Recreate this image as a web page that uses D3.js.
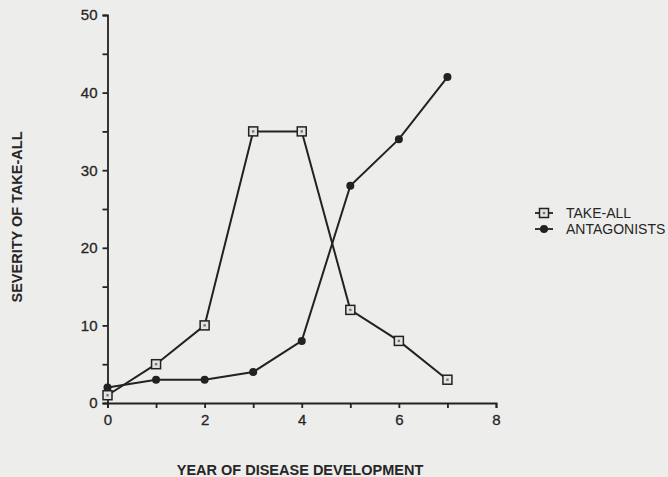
<!DOCTYPE html>
<html>
<head>
<meta charset="utf-8">
<script src="https://cdn.jsdelivr.net/npm/d3@7"></script>
<style>
  body { margin: 0; background: #ededeb; }
  text { font-family: "Liberation Sans", Arial, sans-serif; fill: #262626; }
</style>
</head>
<body>
<div id="chart"></div>
<script>
const years = [0, 1, 2, 3, 4, 5, 6, 7];
const takeAll = [1, 5, 10, 35, 35, 12, 8, 3];
const antagonists = [2, 3, 3, 4, 8, 28, 34, 42];
const seriesNames = ["TAKE-ALL", "ANTAGONISTS"];
const xTicks = [0, 1, 2, 3, 4, 5, 6, 7, 8];
const yTicks = [0, 5, 10, 15, 20, 25, 30, 35, 40, 45, 50];

const width = 668, height = 477;
const ink = "#222";

const svg = d3.select("#chart").append("svg")
  .attr("width", width)
  .attr("height", height);

svg.append("rect")
  .attr("width", width).attr("height", height)
  .attr("fill", "#ededeb");

var x = d3.scaleLinear().domain([0, 8]).range([107.5, 496]);
var y = d3.scaleLinear().domain([0, 50]).range([403, 15]);

// axes
var xAxis = svg.append("g")
  .attr("transform", "translate(0," + y(0) + ")")
  .call(d3.axisBottom(x).tickValues(xTicks).tickSize(5).tickPadding(6)
    .tickFormat(d => d % 2 == 0 ? d : ""));

var yAxis = svg.append("g")
  .attr("transform", "translate(" + x(0) + ",0)")
  .call(d3.axisLeft(y).tickValues(yTicks).tickSize(5).tickPadding(5)
    .tickFormat(d => d % 10 == 0 ? d : ""));

[xAxis, yAxis].forEach(function (a) {
  a.attr("font-size", null).attr("font-family", null);
  a.select(".domain").attr("stroke", ink).attr("stroke-width", 1.8);
  a.selectAll(".tick line").attr("stroke", ink).attr("stroke-width", 1.8);
  a.selectAll(".tick text").style("font-size", "15px").attr("fill", "#262626")
    .attr("stroke", "#262626").attr("stroke-width", 0.3);
});

svg.append("text")
  .attr("x", 300).attr("y", 475)
  .attr("text-anchor", "middle")
  .style("font-size", "14.5px").attr("font-weight", "bold")
  .text("YEAR OF DISEASE DEVELOPMENT");

svg.append("text")
  .attr("transform", "translate(22,217) rotate(-90)")
  .attr("text-anchor", "middle")
  .style("font-size", "14.5px").attr("font-weight", "bold")
  .text("SEVERITY OF TAKE-ALL");

// lines
var line = d3.line()
  .x((d, i) => x(years[i]))
  .y(d => y(d));

[antagonists, takeAll].forEach(function (s) {
  svg.append("path")
    .datum(s)
    .attr("d", line)
    .attr("fill", "none")
    .attr("stroke", ink)
    .attr("stroke-width", 2);
});

function squareMark(g, cx, cy) {
  g.append("rect")
    .attr("x", cx - 4.5).attr("y", cy - 4.5)
    .attr("width", 9).attr("height", 9)
    .attr("fill", "#e4e4e2").attr("stroke", ink).attr("stroke-width", 1.5);
  g.append("rect")
    .attr("x", cx - 1.2).attr("y", cy - 1.2)
    .attr("width", 2.4).attr("height", 2.4)
    .attr("fill", "#777");
}

function dotMark(g, cx, cy) {
  g.append("circle")
    .attr("cx", cx).attr("cy", cy).attr("r", 4)
    .attr("fill", ink);
}

var marks = svg.append("g");
antagonists.forEach((v, i) => dotMark(marks, x(years[i]), y(v)));
takeAll.forEach((v, i) => squareMark(marks, x(years[i]), y(v)));

// legend
var legend = svg.append("g");
seriesNames.forEach(function (name, i) {
  var ly = 213 + i * 16;
  legend.append("line")
    .attr("x1", 535).attr("x2", 553)
    .attr("y1", ly).attr("y2", ly)
    .attr("stroke", ink).attr("stroke-width", 1.8);
  if (i == 0) squareMark(legend, 544, ly);
  else dotMark(legend, 544, ly);
  legend.append("text")
    .attr("x", 566).attr("y", ly + 5)
    .style("font-size", "14px")
    .text(name);
});
</script>
</body>
</html>
